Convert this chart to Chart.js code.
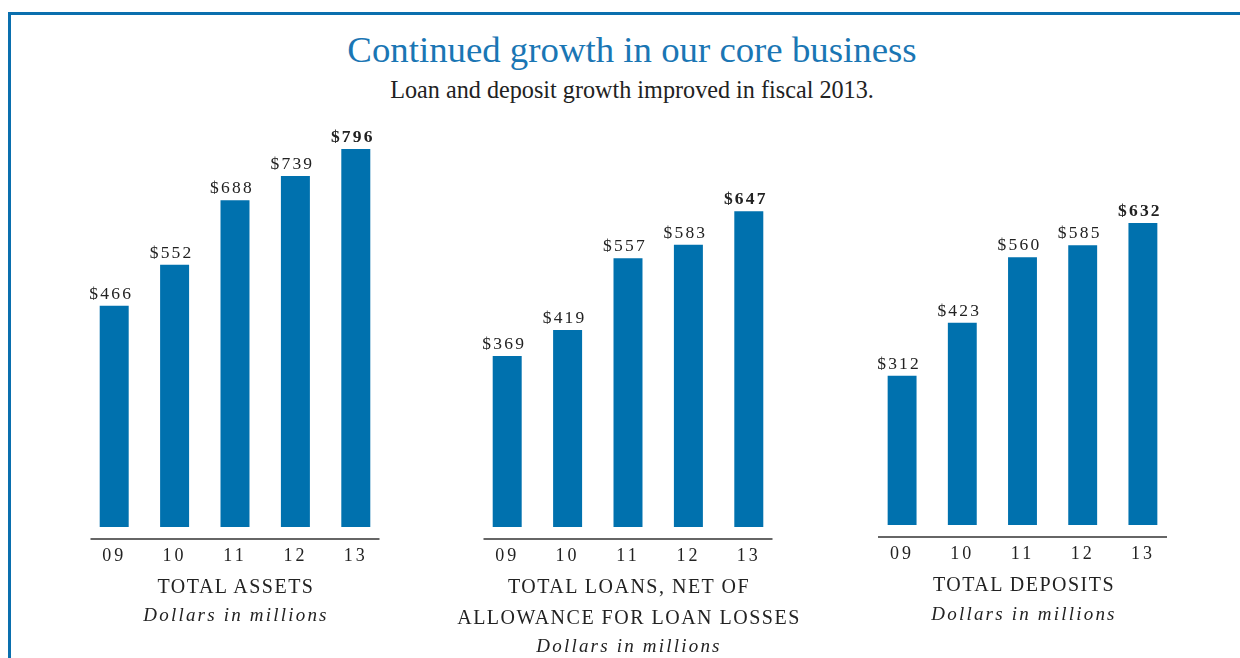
<!DOCTYPE html>
<html>
<head>
<meta charset="utf-8">
<script src="https://cdn.jsdelivr.net/npm/chart.js@4"></script>
<style>
  body { margin: 0; width: 1240px; height: 658px; overflow: hidden; background: #fff; position: relative; font-family: "Liberation Serif", serif; }
  .frame { position: absolute; left: 8px; top: 12px; width: 1300px; height: 700px; border-top: 3px solid #0a6fae; border-left: 3px solid #0a6fae; }
  .txt { position: absolute; text-align: center; white-space: nowrap; line-height: 1; color: #222; }
  .title { left: 232px; width: 800px; top: 32px; font-size: 36.8px; color: #1a76b4; }
  .sub { left: 232px; width: 800px; top: 78px; font-size: 24.2px; color: #222; }
  .cap { font-size: 20px; letter-spacing: 1.5px; }
  .it { font-size: 19px; font-style: italic; letter-spacing: 2.2px; }
  canvas { position: absolute; top: 110px; }
</style>
</head>
<body>
<div class="frame"></div>
<div class="txt title">Continued growth in our core business</div>
<div class="txt sub">Loan and deposit growth improved in fiscal 2013.</div>

<canvas id="assets" width="302" height="469" style="left:84px"></canvas>
<canvas id="loans" width="302" height="469" style="left:477px"></canvas>
<canvas id="deposits" width="301" height="467" style="left:872px"></canvas>

<div class="txt cap" style="left:36px;width:400px;top:576px">TOTAL ASSETS</div>
<div class="txt it" style="left:36px;width:400px;top:605px">Dollars in millions</div>

<div class="txt cap" style="left:429px;width:400px;top:576px">TOTAL LOANS, NET OF</div>
<div class="txt cap" style="left:429px;width:400px;top:607px">ALLOWANCE FOR LOAN LOSSES</div>
<div class="txt it" style="left:429px;width:400px;top:636px">Dollars in millions</div>

<div class="txt cap" style="left:824px;width:400px;top:574px">TOTAL DEPOSITS</div>
<div class="txt it" style="left:824px;width:400px;top:604px">Dollars in millions</div>

<script>
const years = ["09", "10", "11", "12", "13"];
const totalAssets = [466, 552, 688, 739, 796];
const totalLoans = [369, 419, 557, 583, 647];
const totalDeposits = [312, 423, 560, 585, 632];

const barBlue = "#0071ae";

// value labels above each bar, latest year in bold
const valueLabels = {
	id: "valueLabels",
	beforeDraw(chart) {
		chart.ctx.letterSpacing = "3px";
	},
	afterDatasetsDraw(chart) {
		const ctx = chart.ctx;
		const values = chart.data.datasets[0].data;
		chart.getDatasetMeta(0).data.forEach((bar, i) => {
			ctx.save();
			ctx.letterSpacing = "2.2px";
			ctx.font = (i === values.length - 1 ? "bold " : "") + "17.5px 'Liberation Serif'";
			ctx.fillStyle = "#222";
			ctx.textAlign = "center";
			ctx.textBaseline = "alphabetic";
			ctx.fillText("$" + values[i], bar.x - 3, bar.y - 7);
			ctx.restore();
		});
	},
};

// baseline under the bars, a little shorter than the category band
const baseLine = {
	id: "baseLine",
	afterDraw(chart, args, opts) {
		const { ctx, chartArea } = chart;
		ctx.save();
		ctx.strokeStyle = "#333";
		ctx.lineWidth = 1.5;
		ctx.beginPath();
		ctx.moveTo(chartArea.left + opts.inset, chartArea.bottom);
		ctx.lineTo(chartArea.right - opts.inset, chartArea.bottom);
		ctx.stroke();
		ctx.restore();
	},
};

function makeChart(id, values, yMin, yMax, base, inset) {
	const dataset = {
		data: values,
		backgroundColor: barBlue,
		borderWidth: 0,
		barPercentage: 0.48,
		categoryPercentage: 1,
	};
	if (base !== undefined) dataset.base = base;

	new Chart(document.getElementById(id), {
		type: "bar",
		data: { labels: years, datasets: [dataset] },
		options: {
			responsive: false,
			animation: false,
			layout: { padding: 0 },
			plugins: {
				legend: { display: false },
				tooltip: { enabled: false },
				baseLine: { inset },
			},
			scales: {
				x: {
					grid: { display: false, drawTicks: false },
					border: { display: false },
					ticks: { color: "#222", padding: 6, font: { family: "Liberation Serif", size: 18 } },
					afterFit(scale) {
						scale.height = 40;
					},
				},
				y: { display: false, min: yMin, max: yMax },
			},
		},
		plugins: [valueLabels, baseLine],
	});
}

makeChart("assets", totalAssets, -25.3, 877.9, undefined, 6.5);
makeChart("loans", totalLoans, 16.9, 841.9, 40, 6.5);
makeChart("deposits", totalDeposits, -25.1, 868.2, undefined, 6);
</script>
</body>
</html>
